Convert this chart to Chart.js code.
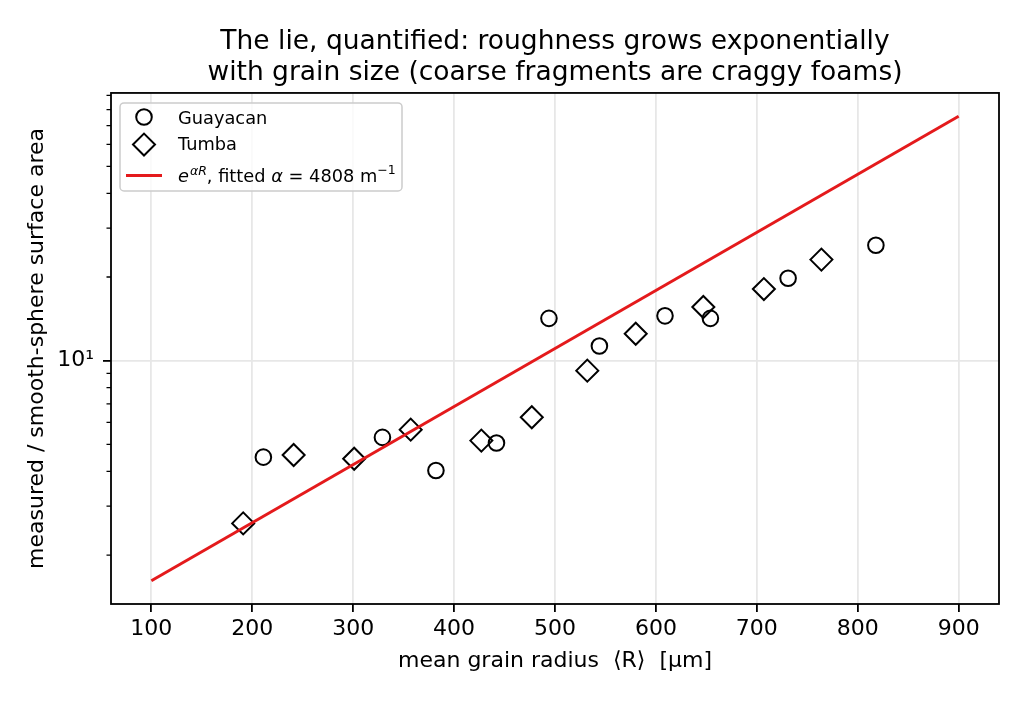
<!DOCTYPE html>
<html>
<head>
<meta charset="utf-8">
<title>Roughness vs grain size</title>
<script src="https://cdn.jsdelivr.net/npm/chart.js@4.4.0/dist/chart.umd.min.js"></script>
<style>
  html, body { margin: 0; padding: 0; background: #fff; }
  #wrap { width: 1024px; height: 704px; position: relative; }
</style>
</head>
<body>
<div id="wrap"><canvas id="roughness-chart"></canvas></div>
<script>
// measured / smooth-sphere area vs mean grain radius (um)
const guayacanRadius = [211, 329, 382, 442, 494, 544, 609, 654, 731, 818];
const guayacanRatio  = [4.50, 5.30, 4.03, 5.06, 14.2, 11.3, 14.5, 14.2, 19.8, 26.0];

const tumbaRadius = [191, 241, 301, 357, 427, 477, 532, 580, 647, 707, 764];
const tumbaRatio  = [2.60, 4.58, 4.44, 5.65, 5.16, 6.26, 9.21, 12.5, 15.6, 18.1, 23.1];

// exp(alpha R) fit, alpha = 4808 1/m: straight on a log axis, so its two ends are enough
const fitRadius = [100, 900];
const fitRatio  = [1.617, 75.7];

const xTicks = [100, 200, 300, 400, 500, 600, 700, 800, 900];
const yMajorTicks = [10];
const yMinorTicks = [2, 3, 4, 5, 6, 7, 8, 9, 20, 30, 40, 50, 60, 70, 80, 90];

const FONT = 'DejaVu Sans';
const FIT_RED = '#e41a1c';

Chart.defaults.font.family = FONT;
Chart.defaults.color = '#000';

const toPoints = (xs, ys) => xs.map((x, i) => ({ x: x, y: ys[i] }));

// center the title over the axes box rather than the whole canvas
const titleOverAxes = {
    id: 'titleOverAxes',
    afterLayout(chart) {
        if (chart.titleBlock) {
            chart.titleBlock.left = chart.chartArea.left;
            chart.titleBlock.right = chart.chartArea.right;
        }
    }
};

// spines on top of the data, plus the short minor ticks of the log axis
const frame = {
    id: 'frame',
    afterDatasetsDraw(chart) {
        const { ctx, chartArea: a, scales: { y } } = chart;
        ctx.save();
        ctx.strokeStyle = '#000';
        ctx.lineWidth = 1.3;
        ctx.beginPath();
        yMinorTicks.forEach(v => {
            const py = y.getPixelForValue(v);
            ctx.moveTo(a.left, py);
            ctx.lineTo(a.left - 4.5, py);
        });
        ctx.stroke();
        ctx.lineWidth = 1.8;
        ctx.strokeRect(a.left, a.top, a.right - a.left, a.bottom - a.top);
        ctx.restore();
    }
};

function drawMarker(ctx, style, x, y) {
    ctx.beginPath();
    if (style === 'circle') {
        ctx.arc(x, y, 7.8, 0, Math.PI * 2);
    } else {
        ctx.moveTo(x - 11, y);
        ctx.lineTo(x, y - 11);
        ctx.lineTo(x + 11, y);
        ctx.lineTo(x, y + 11);
        ctx.closePath();
    }
    ctx.stroke();
}

// boxed legend in the upper left, the fit label has superscript pieces
const boxLegend = {
    id: 'boxLegend',
    afterDraw(chart) {
        const { ctx, chartArea: a } = chart;
        const ds = chart.data.datasets;
        const x0 = a.left + 9, y0 = a.top + 10;
        ctx.save();
        ctx.fillStyle = 'rgba(255,255,255,0.8)';
        ctx.strokeStyle = '#cccccc';
        ctx.lineWidth = 1.5;
        ctx.beginPath();
        ctx.roundRect(x0, y0, 282, 88, 4);
        ctx.fill();
        ctx.stroke();

        const hx = x0 + 24, tx = x0 + 58;
        ctx.strokeStyle = '#000';
        ctx.lineWidth = 2;
        drawMarker(ctx, 'circle', hx, y0 + 14);
        drawMarker(ctx, 'diamond', hx, y0 + 41.6);
        ctx.strokeStyle = FIT_RED;
        ctx.lineWidth = 3;
        ctx.beginPath();
        ctx.moveTo(hx - 18, y0 + 72.6);
        ctx.lineTo(hx + 18, y0 + 72.6);
        ctx.stroke();

        ctx.fillStyle = '#000';
        ctx.textBaseline = 'alphabetic';
        ctx.font = `17.8px "${FONT}"`;
        ctx.fillText(ds[0].label, tx, y0 + 20.6);
        ctx.fillText(ds[1].label, tx, y0 + 47.3);

        const pieces = [
            { t: 'e', f: `italic 17.8px "${FONT}"`, rise: 0 },
            { t: 'αR', f: `italic 12.5px "${FONT}"`, rise: 7 },
            { t: ', fitted ', f: `17.8px "${FONT}"`, rise: 0 },
            { t: 'α', f: `italic 17.8px "${FONT}"`, rise: 0 },
            { t: ' = 4808 m', f: `17.8px "${FONT}"`, rise: 0 },
            { t: '−1', f: `12.5px "${FONT}"`, rise: 7.5 }
        ];
        let cx = tx;
        const base = y0 + 79;
        pieces.forEach(p => {
            ctx.font = p.f;
            ctx.fillText(p.t, cx, base - p.rise);
            cx += ctx.measureText(p.t).width + (p.t === 'e' ? 1 : 0);
        });
        ctx.restore();
    }
};

new Chart(document.getElementById('roughness-chart'), {
    type: 'scatter',
    data: {
        datasets: [
            {
                label: 'Guayacan',
                data: toPoints(guayacanRadius, guayacanRatio),
                pointStyle: 'circle',
                pointRadius: 7.8,
                pointBorderWidth: 2,
                borderColor: '#000',
                backgroundColor: 'rgba(0,0,0,0)',
                order: 2
            },
            {
                label: 'Tumba',
                data: toPoints(tumbaRadius, tumbaRatio),
                pointStyle: 'rectRot',
                pointRadius: 11,
                pointBorderWidth: 2,
                borderColor: '#000',
                backgroundColor: 'rgba(0,0,0,0)',
                order: 1
            },
            {
                label: 'e^(αR), fitted α = 4808 m^-1',
                type: 'line',
                data: toPoints(fitRadius, fitRatio),
                showLine: true,
                pointRadius: 0,
                borderColor: FIT_RED,
                borderWidth: 3,
                fill: false,
                order: 0
            }
        ]
    },
    options: {
        responsive: true,
        maintainAspectRatio: false,
        devicePixelRatio: 1,
        animation: false,
        layout: { padding: { top: 0, left: 0, right: 25, bottom: 0 } },
        plugins: {
            legend: { display: false },
            tooltip: { enabled: false },
            title: {
                display: true,
                text: ['The lie, quantified: roughness grows exponentially',
                       'with grain size (coarse fragments are craggy foams)'],
                font: { size: 26.5, weight: 'normal', lineHeight: 1.15 },
                color: '#000',
                padding: { top: 27, bottom: 5 }
            }
        },
        scales: {
            x: {
                type: 'linear',
                min: 60,
                max: 940,
                afterBuildTicks: s => { s.ticks = xTicks.map(v => ({ value: v })); },
                afterFit: s => { s.height = 100; },
                ticks: { font: { size: 22 }, padding: 4, maxRotation: 0 },
                grid: { color: '#e7e7e7', lineWidth: 1.8, tickColor: '#000', tickWidth: 1.8, tickLength: 8 },
                border: { display: false },
                title: {
                    display: true,
                    text: 'mean grain radius  ⟨R⟩  [µm]',
                    font: { size: 22 },
                    padding: { top: 0, bottom: 30 }
                }
            },
            y: {
                type: 'logarithmic',
                min: 1.334,
                max: 91.8,
                afterBuildTicks: s => { s.ticks = yMajorTicks.map(v => ({ value: v })); },
                afterFit: s => { s.width = 111; },
                ticks: {
                    font: { size: 22 },
                    padding: 9,
                    callback: v => (v === 10 ? '10¹' : '')
                },
                grid: { color: '#e7e7e7', lineWidth: 1.8, tickColor: '#000', tickWidth: 1.8, tickLength: 8 },
                border: { display: false },
                title: {
                    display: true,
                    text: 'measured / smooth-sphere surface area',
                    font: { size: 22 },
                    padding: { top: 24, bottom: 0 }
                }
            }
        }
    },
    plugins: [titleOverAxes, frame, boxLegend]
});
</script>
</body>
</html>
